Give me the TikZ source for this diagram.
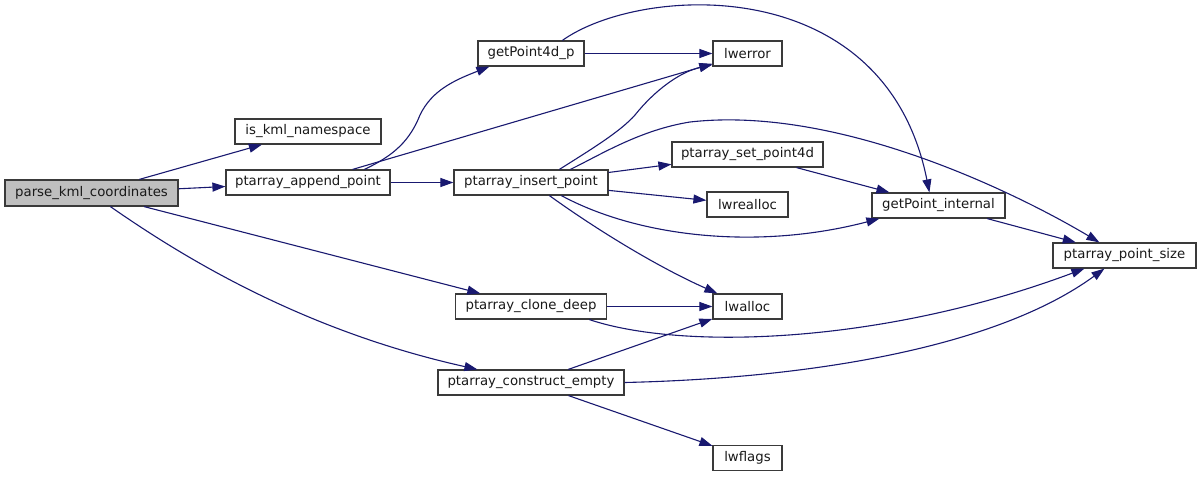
\documentclass[tikz,border=0pt]{standalone}
\usepackage{fontspec}
\setmainfont{DejaVu Sans}
\usetikzlibrary{arrows.meta}
\definecolor{edgeblue}{HTML}{191970}
\definecolor{hilite}{HTML}{BFBFBF}
\definecolor{boxline}{HTML}{3A3A3A}
\tikzset{
  fn/.style={draw=boxline, line width=1.2pt, rectangle, inner sep=0pt,
    minimum height=25pt, font=\fontsize{13.3pt}{15pt}\selectfont, text=black!90, anchor=center},
  edge/.style={draw=edgeblue, line width=1.1pt, -{Triangle[length=13pt,width=9pt]}},
}
\begin{document}
\begin{tikzpicture}[x=1pt,y=-1pt]
\useasboundingbox[fill=white] (0,0) rectangle (1201,477);
\node[fn, fill=hilite, minimum width=173pt, minimum height=26pt] (parse) at (91.5,193) {parse\_kml\_coordinates};
\node[fn, minimum width=146pt] (iskml) at (308,131.5) {is\_kml\_namespace};
\node[fn, minimum width=164pt] (append) at (308,182.5) {ptarray\_append\_point};
\node[fn, minimum width=106pt] (gp4d) at (531,53.5) {getPoint4d\_p};
\node[fn, minimum width=69pt] (lwerror) at (747.5,53.5) {lwerror};
\node[fn, minimum width=154pt] (insert) at (531,182.5) {ptarray\_insert\_point};
\node[fn, minimum width=151pt] (setp) at (747.5,154.5) {ptarray\_set\_point4d};
\node[fn, minimum width=81pt] (lwrealloc) at (747.5,204.5) {lwrealloc};
\node[fn, minimum width=133pt] (gpi) at (938.5,205.5) {getPoint\_internal};
\node[fn, minimum width=143pt] (psize) at (1124.5,255.5) {ptarray\_point\_size};
\node[fn, minimum width=151pt] (clone) at (531,306.5) {ptarray\_clone\_deep};
\node[fn, minimum width=69pt] (lwalloc) at (747.5,306.5) {lwalloc};
\node[fn, minimum width=186pt] (construct) at (531,382.5) {ptarray\_construct\_empty};
\node[fn, minimum width=69pt] (lwflags) at (747.5,458) {lwflags};

% straight edges
\draw[edge] (parse) -- (iskml);
\draw[edge] (parse) -- (append);
\draw[edge] (parse) -- (clone);
\draw[edge] (append) -- (lwerror);
\draw[edge] (append) -- (insert);
\draw[edge] (gp4d) -- (lwerror);
\draw[edge] (insert) -- (setp);
\draw[edge] (insert) -- (lwrealloc);
\draw[edge] (setp) -- (gpi);
\draw[edge] (gpi) -- (psize);
\draw[edge] (clone) -- (lwalloc);
\draw[edge] (construct) -- (lwalloc);
\draw[edge] (construct) -- (lwflags);

% curved edges
\draw[edge] ([xshift=106pt]parse.south west) .. controls (180,255) and (300,330) .. ([xshift=40pt]construct.north west);
\draw[edge] ([xshift=139pt]append.north west) .. controls (395,155) and (410,140) .. (420,115)
   .. controls (432,90) and (455,80) .. ([xshift=12pt]gp4d.south west);
\draw[edge] ([xshift=85pt]gp4d.north west) .. controls (640,-15) and (885,-30) .. ([xshift=58pt]gpi.north west);
\draw[edge] ([xshift=106pt]insert.north west) .. controls (590,150) and (620,132) .. (635,115)
   .. controls (655,90) and (680,72) .. ([yshift=2pt]lwerror.south west);
\draw[edge] ([xshift=117pt]insert.north west) .. controls (600,155) and (640,130) .. (690,122)
   .. controls (840,105) and (1020,195) .. ([xshift=47pt]psize.north west);
\draw[edge] ([xshift=108pt]insert.south west) .. controls (640,238) and (760,250) .. ([xshift=8pt]gpi.south west);
\draw[edge] ([xshift=96pt]insert.south west) .. controls (600,232) and (660,268) .. ([xshift=5pt]lwalloc.north west);
\draw[edge] ([xshift=134.5pt]clone.south west) .. controls (680,350) and (880,345) .. ([xshift=32pt]psize.south west);
\draw[edge] (construct.east) .. controls (820,378) and (1000,345) .. ([xshift=52pt]psize.south west);
\end{tikzpicture}
\end{document}
